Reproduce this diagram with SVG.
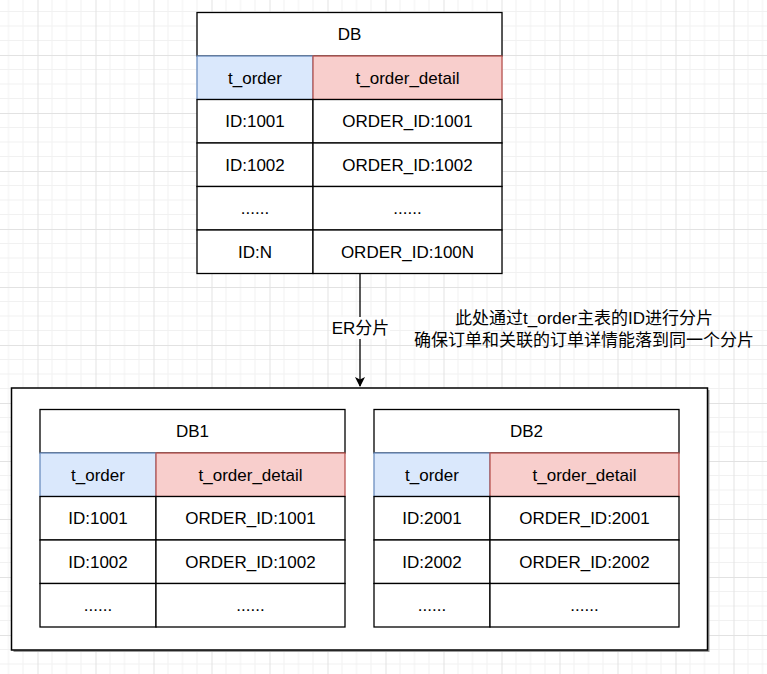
<svg xmlns="http://www.w3.org/2000/svg" width="767" height="674" viewBox="0 0 767 674">
<style>
text{font-family:"Liberation Sans","Noto Sans CJK SC",Arial,sans-serif;font-size:17px;fill:#000;text-anchor:middle}
.c{fill:#fff;stroke:#000;stroke-width:1.3}
.b{fill:#dae8fc;stroke:#6c8ebf;stroke-width:1.3}
.r{fill:#f8cecc;stroke:#b85450;stroke-width:1.3}
.ln{stroke:#000;stroke-width:1.3;fill:none}
</style>
<defs>
<pattern id="grid" patternUnits="userSpaceOnUse" x="37.5" y="55" width="58" height="58">
<rect width="58" height="58" fill="#fff"/>
<path d="M14.5 0V58M29 0V58M43.5 0V58M0 14.5H58M0 29H58M0 43.5H58" stroke="#f1f1f1" stroke-width="1"/>
<path d="M0.5 0V58M0 0.5H58" stroke="#e2e2e2" stroke-width="1"/>
</pattern>
<marker id="arr" viewBox="0 0 10 10" refX="9" refY="5" markerWidth="10" markerHeight="10" markerUnits="userSpaceOnUse" orient="auto">
<path d="M0 0L10 5L0 10L2.5 5Z" fill="#000"/>
</marker>
</defs>
<rect width="767" height="674" fill="url(#grid)"/>

<g id="connectors">
<line class="ln" x1="360" y1="273.5" x2="360" y2="386" marker-end="url(#arr)"/>
<rect x="331" y="317" width="59" height="22" fill="#fff"/>
<text x="360.5" y="334">ER分片</text>
</g>

<g id="note">
<text x="584" y="324">此处通过t_order主表的ID进行分片</text>
<text x="584" y="346">确保订单和关联的订单详情能落到同一个分片</text>
</g>

<g id="db">
<rect class="c" x="197" y="12.5" width="305" height="43.5"/>
<text x="349.5" y="40">DB</text>
<rect class="b" x="197" y="56" width="116" height="43.5"/>
<rect class="r" x="313" y="56" width="189" height="43.5"/>
<text x="255" y="83.5">t_order</text>
<text x="407.5" y="83.5">t_order_detail</text>
<rect class="c" x="197" y="99.5" width="116" height="43.5"/>
<rect class="c" x="313" y="99.5" width="189" height="43.5"/>
<text x="255" y="127">ID:1001</text>
<text x="407.5" y="127">ORDER_ID:1001</text>
<rect class="c" x="197" y="143" width="116" height="43.5"/>
<rect class="c" x="313" y="143" width="189" height="43.5"/>
<text x="255" y="170.5">ID:1002</text>
<text x="407.5" y="170.5">ORDER_ID:1002</text>
<rect class="c" x="197" y="186.5" width="116" height="43.5"/>
<rect class="c" x="313" y="186.5" width="189" height="43.5"/>
<text x="255" y="214">......</text>
<text x="407.5" y="214">......</text>
<rect class="c" x="197" y="230" width="116" height="43.5"/>
<rect class="c" x="313" y="230" width="189" height="43.5"/>
<text x="255" y="257.5">ID:N</text>
<text x="407.5" y="257.5">ORDER_ID:100N</text>
</g>

<g id="shards">
<rect x="13.5" y="390" width="696" height="262" fill="#999"/>
<rect x="11.5" y="388" width="696" height="262" fill="#fff" stroke="#000" stroke-width="1.5"/>
</g>

<g id="db1">
<rect class="c" x="40" y="409.5" width="305" height="43.5"/>
<text x="192.5" y="437">DB1</text>
<rect class="b" x="40" y="453" width="116" height="43.5"/>
<rect class="r" x="156" y="453" width="189" height="43.5"/>
<text x="98" y="480.5">t_order</text>
<text x="250.5" y="480.5">t_order_detail</text>
<rect class="c" x="40" y="496.5" width="116" height="43.5"/>
<rect class="c" x="156" y="496.5" width="189" height="43.5"/>
<text x="98" y="524">ID:1001</text>
<text x="250.5" y="524">ORDER_ID:1001</text>
<rect class="c" x="40" y="540" width="116" height="43.5"/>
<rect class="c" x="156" y="540" width="189" height="43.5"/>
<text x="98" y="567.5">ID:1002</text>
<text x="250.5" y="567.5">ORDER_ID:1002</text>
<rect class="c" x="40" y="583.5" width="116" height="43.5"/>
<rect class="c" x="156" y="583.5" width="189" height="43.5"/>
<text x="98" y="611">......</text>
<text x="250.5" y="611">......</text>
</g>

<g id="db2">
<rect class="c" x="374" y="409.5" width="305" height="43.5"/>
<text x="526.5" y="437">DB2</text>
<rect class="b" x="374" y="453" width="116" height="43.5"/>
<rect class="r" x="490" y="453" width="189" height="43.5"/>
<text x="432" y="480.5">t_order</text>
<text x="584.5" y="480.5">t_order_detail</text>
<rect class="c" x="374" y="496.5" width="116" height="43.5"/>
<rect class="c" x="490" y="496.5" width="189" height="43.5"/>
<text x="432" y="524">ID:2001</text>
<text x="584.5" y="524">ORDER_ID:2001</text>
<rect class="c" x="374" y="540" width="116" height="43.5"/>
<rect class="c" x="490" y="540" width="189" height="43.5"/>
<text x="432" y="567.5">ID:2002</text>
<text x="584.5" y="567.5">ORDER_ID:2002</text>
<rect class="c" x="374" y="583.5" width="116" height="43.5"/>
<rect class="c" x="490" y="583.5" width="189" height="43.5"/>
<text x="432" y="611">......</text>
<text x="584.5" y="611">......</text>
</g>
</svg>
